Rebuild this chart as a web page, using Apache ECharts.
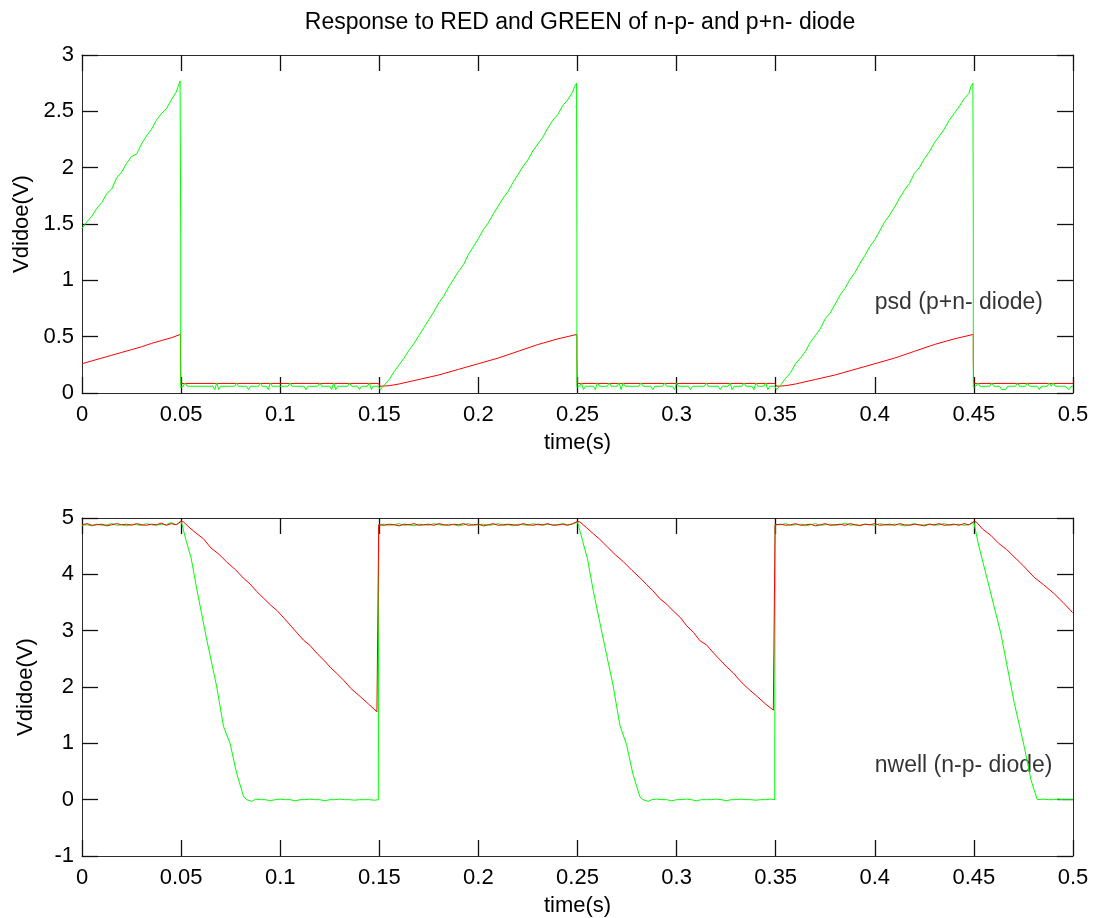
<!DOCTYPE html>
<html>
<head>
<meta charset="utf-8">
<script src="https://cdn.jsdelivr.net/npm/echarts@6/dist/echarts.min.js"></script>
<style>
  html, body { margin: 0; padding: 0; background: #fff; }
  #chart { width: 1093px; height: 918px; }
</style>
</head>
<body>
<div id="chart"></div>
<script>
// Photodiode voltage traces, [time (s), voltage (V)]
const titleText = 'Response to RED and GREEN of n-p- and p+n- diode';
const xLabel = 'time(s)';
const yLabel = 'Vdidoe(V)';
const psdNote = 'psd (p+n- diode)';
const nwellNote = 'nwell (n-p- diode)';

// p+n- diode (psd), green light
const psdGreen = [
  [0,1.46],[0.0025,1.52],[0.005,1.57],[0.0075,1.64],[0.01,1.69],[0.0125,1.77],[0.015,1.81],[0.0175,1.91],[0.02,1.96],[0.0225,2.04],
  [0.025,2.10],[0.0275,2.12],[0.03,2.21],[0.0325,2.28],[0.035,2.34],[0.0375,2.42],[0.04,2.48],[0.0425,2.52],[0.045,2.60],[0.0475,2.67],
  [0.0485,2.72],[0.0495,2.77],[0.0498,2.77],[0.0498,1.40],[0.0498,0.05],
  [0.051,0.06],[0.052,0.09],[0.053,0.06],[0.066,0.06],[0.067,0.03],[0.068,0.09],[0.069,0.03],[0.070,0.06],[0.077,0.06],[0.078,0.09],
  [0.079,0.06],[0.083,0.06],[0.084,0.03],[0.085,0.06],[0.089,0.06],[0.090,0.09],[0.091,0.06],[0.093,0.06],[0.094,0.03],[0.095,0.09],
  [0.096,0.06],[0.104,0.06],[0.105,0.09],[0.106,0.06],[0.112,0.06],[0.113,0.03],[0.114,0.06],[0.119,0.06],[0.120,0.09],[0.121,0.06],
  [0.125,0.06],[0.126,0.03],[0.127,0.09],[0.128,0.03],[0.129,0.06],[0.134,0.06],[0.135,0.09],[0.136,0.06],[0.139,0.06],[0.140,0.03],
  [0.141,0.06],[0.144,0.06],[0.145,0.09],[0.146,0.03],[0.147,0.06],[0.1495,0.06],[0.1505,0.03],
  [0.1525,0.07],[0.155,0.12],[0.1575,0.19],[0.16,0.25],[0.1625,0.31],[0.165,0.38],[0.1675,0.44],[0.17,0.51],[0.1725,0.58],[0.175,0.65],
  [0.1775,0.72],[0.18,0.80],[0.1825,0.86],[0.185,0.94],[0.1875,1.01],[0.19,1.08],[0.1925,1.14],[0.195,1.23],[0.1975,1.30],[0.2,1.37],
  [0.2025,1.45],[0.205,1.51],[0.2075,1.59],[0.21,1.66],[0.2125,1.73],[0.215,1.79],[0.2175,1.87],[0.22,1.94],[0.2225,2.01],[0.225,2.07],
  [0.2275,2.15],[0.23,2.21],[0.2325,2.27],[0.235,2.35],[0.2375,2.42],[0.24,2.47],[0.2425,2.55],[0.245,2.60],[0.2475,2.67],[0.2485,2.72],
  [0.2495,2.75],[0.2497,1.40],[0.2497,0.05],
  [0.251,0.06],[0.252,0.09],[0.253,0.03],[0.254,0.06],[0.258,0.06],[0.259,0.03],[0.260,0.09],[0.261,0.06],[0.265,0.06],[0.266,0.09],
  [0.267,0.06],[0.270,0.06],[0.271,0.09],[0.272,0.03],[0.273,0.09],[0.274,0.06],[0.281,0.06],[0.282,0.09],[0.283,0.06],[0.287,0.06],
  [0.288,0.03],[0.289,0.06],[0.293,0.06],[0.294,0.09],[0.295,0.06],[0.298,0.06],[0.299,0.03],[0.300,0.09],[0.301,0.06],[0.306,0.06],
  [0.307,0.03],[0.308,0.06],[0.314,0.06],[0.315,0.09],[0.316,0.06],[0.321,0.06],[0.322,0.03],[0.323,0.06],[0.326,0.06],[0.327,0.09],
  [0.328,0.03],[0.329,0.06],[0.333,0.06],[0.334,0.09],[0.335,0.06],[0.338,0.06],[0.339,0.03],[0.340,0.09],[0.341,0.06],[0.344,0.06],
  [0.345,0.09],[0.346,0.03],[0.347,0.06],[0.3495,0.06],[0.3505,0.03],
  [0.3525,0.07],[0.355,0.13],[0.3575,0.18],[0.36,0.26],[0.3625,0.31],[0.365,0.37],[0.3675,0.45],[0.37,0.51],[0.3725,0.57],[0.375,0.66],
  [0.3775,0.71],[0.38,0.79],[0.3825,0.87],[0.385,0.93],[0.3875,1.01],[0.39,1.07],[0.3925,1.15],[0.395,1.22],[0.3975,1.30],[0.4,1.36],
  [0.4025,1.44],[0.405,1.52],[0.4075,1.58],[0.41,1.65],[0.4125,1.73],[0.415,1.80],[0.4175,1.86],[0.42,1.95],[0.4225,2.00],[0.425,2.08],
  [0.4275,2.14],[0.43,2.22],[0.4325,2.28],[0.435,2.34],[0.4375,2.42],[0.44,2.48],[0.4425,2.54],[0.445,2.61],[0.4475,2.66],[0.4485,2.72],
  [0.4495,2.75],[0.4497,1.40],[0.4497,0.05],
  [0.451,0.06],[0.452,0.09],[0.453,0.06],[0.458,0.06],[0.459,0.09],[0.460,0.06],[0.463,0.06],[0.464,0.03],[0.465,0.03],[0.466,0.03],
  [0.467,0.06],[0.471,0.06],[0.472,0.09],[0.473,0.06],[0.476,0.06],[0.477,0.09],[0.478,0.06],[0.482,0.06],[0.483,0.03],[0.484,0.06],
  [0.487,0.06],[0.488,0.09],[0.489,0.06],[0.490,0.09],[0.491,0.06],[0.496,0.06],[0.497,0.06],[0.498,0.03],[0.499,0.06],[0.5,0.06]
];

// p+n- diode (psd), red light
const psdRed = [
  [0,0.26],[0.005,0.285],[0.01,0.31],[0.015,0.335],[0.02,0.36],[0.025,0.385],[0.03,0.41],[0.035,0.44],[0.04,0.465],[0.045,0.49],
  [0.0497,0.52],[0.0497,0.30],[0.0499,0.085],[0.1,0.085],[0.1495,0.085],[0.1505,0.06],[0.155,0.065],[0.16,0.08],[0.17,0.12],[0.18,0.16],
  [0.19,0.21],[0.2,0.26],[0.21,0.31],[0.22,0.37],[0.23,0.43],[0.24,0.48],[0.2497,0.52],[0.2497,0.30],[0.2499,0.085],[0.3,0.085],
  [0.3495,0.085],[0.3505,0.06],[0.355,0.065],[0.36,0.08],[0.37,0.12],[0.38,0.16],[0.39,0.21],[0.4,0.26],[0.41,0.31],[0.42,0.37],
  [0.43,0.43],[0.44,0.48],[0.4497,0.52],[0.4497,0.30],[0.4499,0.085],[0.5,0.085]
];

// n-p- diode (nwell), green light
const nwellGreen = [
  [0,4.87],[0.0025,4.88],[0.005,4.86],[0.0075,4.89],[0.01,4.87],[0.0125,4.88],[0.015,4.90],[0.0175,4.87],[0.02,4.88],[0.0225,4.86],
  [0.025,4.89],[0.0275,4.88],[0.03,4.87],[0.0325,4.90],[0.035,4.88],[0.0375,4.87],[0.04,4.89],[0.0425,4.88],[0.045,4.92],[0.0475,4.88],
  [0.05,4.95],[0.0525,4.60],[0.055,4.30],[0.058,3.72],[0.063,2.83],[0.068,2.00],[0.0714,1.30],[0.0747,1.00],[0.078,0.47],[0.0815,0.06],
  [0.083,0.0],[0.0857,-0.03],[0.0875,0.01],[0.09,0.0],[0.0925,0.0],[0.095,-0.02],[0.0975,0.0],[0.1,0.01],[0.1025,0.0],[0.105,0.0],
  [0.1075,-0.02],[0.11,0.0],[0.1125,0.0],[0.115,0.01],[0.1175,0.0],[0.12,0.0],[0.1225,-0.02],[0.125,0.0],[0.1275,0.0],[0.13,0.01],
  [0.1325,0.0],[0.135,0.0],[0.1375,-0.01],[0.14,0.0],[0.1425,0.0],[0.145,0.0],[0.1475,-0.01],[0.1495,0.0],[0.1497,4.88],
  [0.1525,4.89],[0.155,4.87],[0.1575,4.88],[0.16,4.90],[0.1625,4.87],[0.165,4.88],[0.1675,4.86],[0.17,4.89],[0.1725,4.88],[0.175,4.87],
  [0.1775,4.90],[0.18,4.88],[0.1825,4.87],[0.185,4.89],[0.1875,4.88],[0.19,4.86],[0.1925,4.88],[0.195,4.90],[0.1975,4.87],[0.2,4.88],
  [0.2025,4.89],[0.205,4.87],[0.2075,4.88],[0.21,4.90],[0.2125,4.87],[0.215,4.88],[0.2175,4.86],[0.22,4.89],[0.2225,4.88],[0.225,4.87],
  [0.2275,4.90],[0.23,4.88],[0.2325,4.87],[0.235,4.89],[0.2375,4.88],[0.24,4.87],[0.2425,4.90],[0.245,4.88],[0.2475,4.89],[0.25,4.93],
  [0.2525,4.60],[0.255,4.28],[0.258,3.70],[0.263,2.85],[0.268,2.02],[0.2714,1.32],[0.2747,0.98],[0.278,0.45],[0.2815,0.05],[0.283,0.0],
  [0.2857,-0.03],[0.2875,0.0],[0.29,0.01],[0.2925,0.0],[0.295,0.0],[0.2975,-0.02],[0.3,0.0],[0.3025,0.0],[0.305,0.01],[0.3075,0.0],
  [0.31,-0.02],[0.3125,0.0],[0.315,0.0],[0.3175,0.0],[0.32,0.01],[0.3225,0.0],[0.325,-0.02],[0.3275,0.0],[0.33,0.0],[0.3325,0.01],
  [0.335,0.0],[0.3375,0.0],[0.34,-0.01],[0.3425,0.0],[0.345,0.0],[0.3475,0.01],[0.3495,0.0],[0.3497,4.88],
  [0.3525,4.88],[0.355,4.90],[0.3575,4.87],[0.36,4.88],[0.3625,4.89],[0.365,4.86],[0.3675,4.88],[0.37,4.90],[0.3725,4.87],[0.375,4.88],
  [0.3775,4.89],[0.38,4.87],[0.3825,4.88],[0.385,4.91],[0.3875,4.87],[0.39,4.88],[0.3925,4.86],[0.395,4.89],[0.3975,4.88],[0.4,4.87],
  [0.4025,4.90],[0.405,4.88],[0.4075,4.87],[0.41,4.89],[0.4125,4.88],[0.415,4.86],[0.4175,4.88],[0.42,4.90],[0.4225,4.87],[0.425,4.88],
  [0.4275,4.89],[0.43,4.87],[0.4325,4.88],[0.435,4.90],[0.4375,4.87],[0.44,4.88],[0.4425,4.89],[0.445,4.87],[0.4475,4.88],[0.45,4.92],
  [0.4525,4.50],[0.4569,3.89],[0.4636,2.95],[0.4704,1.71],[0.4754,0.94],[0.4788,0.35],[0.482,0.0],[0.485,0.01],[0.4875,0.0],[0.49,0.0],
  [0.4925,0.01],[0.495,0.0],[0.4975,0.0],[0.5,0.0]
];

// n-p- diode (nwell), red light
const nwellRed = [
  [0,4.88],[0.0025,4.90],[0.005,4.87],[0.0075,4.88],[0.01,4.89],[0.0125,4.86],[0.015,4.88],[0.0175,4.90],[0.02,4.88],[0.0225,4.89],
  [0.025,4.87],[0.0275,4.90],[0.03,4.88],[0.0325,4.87],[0.035,4.89],[0.0375,4.88],[0.04,4.91],[0.0425,4.87],[0.045,4.90],[0.0475,4.88],
  [0.05,4.94],[0.0512,4.93],[0.0545,4.82],[0.058,4.72],[0.0613,4.63],[0.065,4.47],[0.069,4.36],[0.073,4.22],[0.0775,4.08],[0.0815,3.93],
  [0.0848,3.83],[0.088,3.70],[0.0915,3.58],[0.095,3.46],[0.0983,3.36],[0.102,3.22],[0.105,3.10],[0.1085,2.96],[0.1118,2.83],[0.115,2.74],
  [0.119,2.58],[0.1225,2.46],[0.1255,2.34],[0.1286,2.24],[0.132,2.12],[0.1355,1.98],[0.1404,1.83],[0.1445,1.70],[0.1488,1.56],[0.1497,1.54],
  [0.1497,4.88],
  [0.1525,4.87],[0.155,4.89],[0.1575,4.88],[0.16,4.86],[0.1625,4.89],[0.165,4.88],[0.1675,4.90],[0.17,4.87],[0.1725,4.88],[0.175,4.89],
  [0.1775,4.87],[0.18,4.90],[0.1825,4.88],[0.185,4.87],[0.1875,4.89],[0.19,4.88],[0.1925,4.90],[0.195,4.87],[0.1975,4.88],[0.2,4.89],
  [0.2025,4.86],[0.205,4.88],[0.2075,4.90],[0.21,4.87],[0.2125,4.88],[0.215,4.89],[0.2175,4.88],[0.22,4.87],[0.2225,4.90],[0.225,4.88],
  [0.2275,4.87],[0.23,4.89],[0.2325,4.88],[0.235,4.90],[0.2375,4.87],[0.24,4.88],[0.2425,4.89],[0.245,4.87],[0.2475,4.90],[0.25,4.94],
  [0.2512,4.93],[0.2545,4.83],[0.258,4.72],[0.2613,4.62],[0.265,4.49],[0.269,4.35],[0.273,4.23],[0.2775,4.07],[0.2815,3.94],[0.2848,3.82],
  [0.288,3.71],[0.2915,3.57],[0.295,3.47],[0.2983,3.35],[0.302,3.23],[0.305,3.09],[0.3085,2.97],[0.3118,2.82],[0.315,2.75],[0.319,2.59],
  [0.3225,2.46],[0.3255,2.35],[0.3286,2.25],[0.332,2.11],[0.3355,1.99],[0.3404,1.84],[0.3445,1.71],[0.3488,1.59],[0.3497,1.57],[0.3497,4.88],
  [0.3525,4.89],[0.355,4.87],[0.3575,4.88],[0.36,4.90],[0.3625,4.87],[0.365,4.88],[0.3675,4.89],[0.37,4.86],[0.3725,4.88],[0.375,4.90],
  [0.3775,4.87],[0.38,4.88],[0.3825,4.89],[0.385,4.87],[0.3875,4.90],[0.39,4.88],[0.3925,4.87],[0.395,4.89],[0.3975,4.88],[0.4,4.90],
  [0.4025,4.87],[0.405,4.88],[0.4075,4.89],[0.41,4.87],[0.4125,4.90],[0.415,4.88],[0.4175,4.87],[0.42,4.89],[0.4225,4.88],[0.425,4.86],
  [0.4275,4.89],[0.43,4.88],[0.4325,4.90],[0.435,4.87],[0.4375,4.88],[0.44,4.89],[0.4425,4.87],[0.445,4.90],[0.4475,4.88],[0.45,4.94],
  [0.4512,4.93],[0.4545,4.80],[0.4586,4.69],[0.4625,4.55],[0.4665,4.44],[0.4703,4.31],[0.475,4.15],[0.4803,3.95],[0.485,3.82],[0.4904,3.66],
  [0.495,3.50],[0.4998,3.32]
];

// Text annotation anchors [time, voltage]
const psdNoteAt = [0.4, 0.8];
const nwellNoteAt = [0.4, 0.6];

const FONT = '"Liberation Sans", Arial, sans-serif';
const AXIS_COLOR = '#2b2b2b';
const TICK_FONT = 22;
// Inward tick marks on all four sides of each box
const TICK = { show: true, inside: true, length: 16, lineStyle: { color: '#111', width: 1.3 } };

function xAxes(gridIndex) {
  const common = {
    gridIndex, type: 'value', min: 0, max: 0.5, interval: 0.05,
    axisLine: { show: true, onZero: false, lineStyle: { color: AXIS_COLOR, width: 1 } },
    axisTick: TICK,
    splitLine: { show: false }
  };
  return [
    Object.assign({}, common, {
      position: 'bottom',
      axisLabel: { fontSize: TICK_FONT, color: '#000', fontFamily: FONT, margin: 11 },
      name: xLabel, nameLocation: 'middle', nameGap: 39,
      nameTextStyle: { fontSize: TICK_FONT, color: '#000', fontFamily: FONT }
    }),
    Object.assign({}, common, { position: 'top', axisLabel: { show: false } })
  ];
}

function yAxes(gridIndex, min, max, interval) {
  const common = {
    gridIndex, type: 'value', min, max, interval,
    axisLine: { show: true, onZero: false, lineStyle: { color: AXIS_COLOR, width: 1 } },
    axisTick: TICK,
    splitLine: { show: false }
  };
  return [
    Object.assign({}, common, {
      position: 'left',
      axisLabel: { fontSize: TICK_FONT, color: '#000', fontFamily: FONT, margin: 8 },
      name: yLabel, nameLocation: 'middle', nameGap: 45,
      nameTextStyle: { fontSize: TICK_FONT, color: '#000', fontFamily: FONT }
    }),
    Object.assign({}, common, { position: 'right', axisLabel: { show: false } })
  ];
}

function trace(data, color, xi, yi) {
  return {
    type: 'line', data, xAxisIndex: xi, yAxisIndex: yi,
    showSymbol: false, symbol: 'none', silent: true,
    lineStyle: { color, width: 1 }, clip: true
  };
}

function note(text, at, xi, yi) {
  return {
    type: 'scatter', data: [at], xAxisIndex: xi, yAxisIndex: yi,
    symbolSize: 0, silent: true,
    label: {
      show: true, position: 'right', distance: 0, formatter: text,
      fontSize: 23, color: '#000', fontFamily: FONT
    }
  };
}

const chart = echarts.init(document.getElementById('chart'), null, { renderer: 'canvas' });
chart.setOption({
  backgroundColor: '#fff',
  animation: false,
  title: {
    text: titleText, left: 575, top: 6, textAlign: 'center',
    textStyle: { fontSize: 23, fontWeight: 'normal', color: '#000', fontFamily: FONT }
  },
  grid: [
    { left: 82, top: 55, width: 991, height: 338 },
    { left: 82, top: 518, width: 991, height: 339 }
  ],
  xAxis: [...xAxes(0), ...xAxes(1)],
  yAxis: [...yAxes(0, 0, 3, 0.5), ...yAxes(1, -1, 5, 1)],
  series: [
    trace(psdRed, '#ff0000', 0, 0),
    trace(psdGreen, '#00ff00', 0, 0),
    trace(nwellGreen, '#00ff00', 2, 2),
    trace(nwellRed, '#ff0000', 2, 2),
    note(psdNote, psdNoteAt, 0, 0),
    note(nwellNote, nwellNoteAt, 2, 2)
  ]
});
</script>
</body>
</html>
